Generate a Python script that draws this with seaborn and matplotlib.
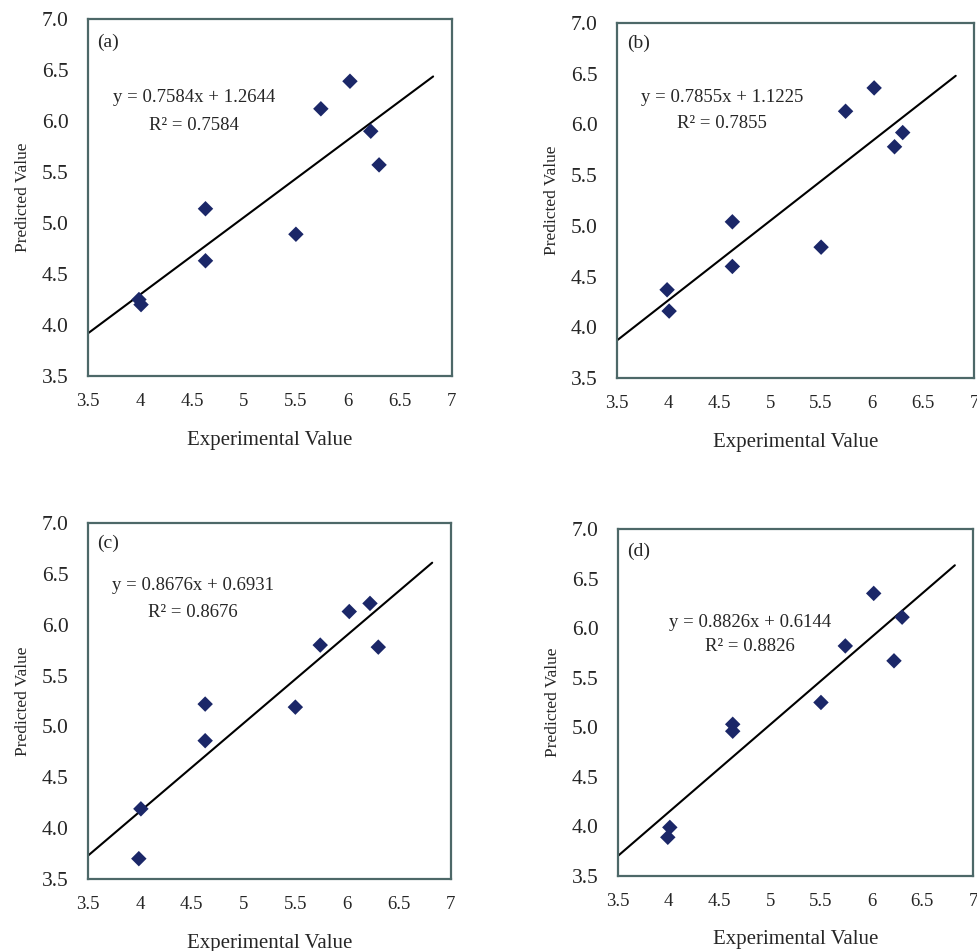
"""Predicted vs experimental values, four model panels — headless Agg backend."""

import matplotlib

matplotlib.use("Agg")

import matplotlib.pyplot as plt
import seaborn as sns
import numpy as np
import pandas as pd

# Data
experimental = [3.99, 4.01, 4.63, 4.63, 5.50, 5.74, 6.02, 6.22, 6.30]
pred_a = [4.25, 4.20, 5.14, 4.63, 4.89, 6.12, 6.39, 5.90, 5.57]
pred_b = [4.37, 4.16, 5.04, 4.60, 4.79, 6.13, 6.36, 5.78, 5.92]
pred_c = [3.70, 4.19, 5.22, 4.86, 5.19, 5.80, 6.13, 6.21, 5.78]
pred_d = [3.89, 3.99, 5.03, 4.96, 5.25, 5.82, 6.35, 5.67, 6.11]

panel_labels = ["(a)", "(b)", "(c)", "(d)"]
slopes = [0.7584, 0.7855, 0.8676, 0.8826]
intercepts = [1.2644, 1.1225, 0.6931, 0.6144]
r_squared = [0.7584, 0.7855, 0.8676, 0.8826]
fit_range = (3.5, 6.82)

x_ticks = [3.5, 4, 4.5, 5, 5.5, 6, 6.5, 7]
x_tick_labels = ["3.5", "4", "4.5", "5", "5.5", "6", "6.5", "7"]
y_ticks = [3.5, 4.0, 4.5, 5.0, 5.5, 6.0, 6.5, 7.0]
y_tick_labels = ["3.5", "4.0", "4.5", "5.0", "5.5", "6.0", "6.5", "7.0"]

# layout (figure fractions) and annotation anchors (data coords)
AXES_RECTS = [
    [0.090, 0.6046, 0.372, 0.3754],
    [0.631, 0.6025, 0.365, 0.3733],
    [0.090, 0.0757, 0.371, 0.3743],
    [0.632, 0.0789, 0.363, 0.3649],
]
EQ_POS = [(4.52, 6.235, 5.96), (4.53, 6.27, 6.01), (4.51, 6.39, 6.125), (4.80, 6.06, 5.81)]
TAG_POS = [(3.59, 6.775), (3.60, 6.80), (3.59, 6.80), (3.59, 6.77)]

MARKER = "#1b2768"
FRAME = "#4d6868"
SERIF = ["Liberation Serif", "DejaVu Serif"]

sns.set_style("white")
plt.rcParams["font.family"] = SERIF

df = pd.DataFrame(
    {
        "experimental": experimental * 4,
        "predicted": pred_a + pred_b + pred_c + pred_d,
        "panel": np.repeat(panel_labels, len(experimental)),
    }
)

fig = plt.figure(figsize=(9.78, 9.51), dpi=100)

for i, tag in enumerate(panel_labels):
    ax = fig.add_axes(AXES_RECTS[i])
    sub = df[df["panel"] == tag]

    # trendline
    line_x = np.array(fit_range)
    ax.plot(line_x, slopes[i] * line_x + intercepts[i], color="black", lw=1.5, zorder=2)

    sns.scatterplot(
        data=sub,
        x="experimental",
        y="predicted",
        marker="D",
        s=62,
        color=MARKER,
        edgecolor="none",
        ax=ax,
        zorder=3,
    )

    ax.set_xlim(3.5, 7)
    ax.set_ylim(3.5, 7.0)
    ax.set_xticks(x_ticks)
    ax.set_xticklabels(x_tick_labels, fontsize=13.5)
    ax.set_yticks(y_ticks)
    ax.set_yticklabels(y_tick_labels, fontsize=15.5)
    ax.tick_params(axis="both", direction="in", length=3, width=0.8, color=FRAME)
    ax.tick_params(axis="x", pad=12)
    ax.tick_params(axis="y", pad=14)

    for spine in ax.spines.values():
        spine.set_visible(True)
        spine.set_color(FRAME)
        spine.set_linewidth(1.6)

    ax.set_xlabel("Experimental Value", fontsize=15, labelpad=15)
    ax.set_ylabel("Predicted Value", fontsize=12.5, labelpad=8)

    ex, ey1, ey2 = EQ_POS[i]
    ax.text(ex, ey1, f"y = {slopes[i]:.4f}x + {intercepts[i]:.4f}",
            ha="center", va="center", fontsize=13.5)
    ax.text(ex, ey2, f"R² = {r_squared[i]:.4f}",
            ha="center", va="center", fontsize=13.5)
    tx, ty = TAG_POS[i]
    ax.text(tx, ty, tag, ha="left", va="center", fontsize=14)

fig.savefig("out.png", dpi=100)
plt.close(fig)
